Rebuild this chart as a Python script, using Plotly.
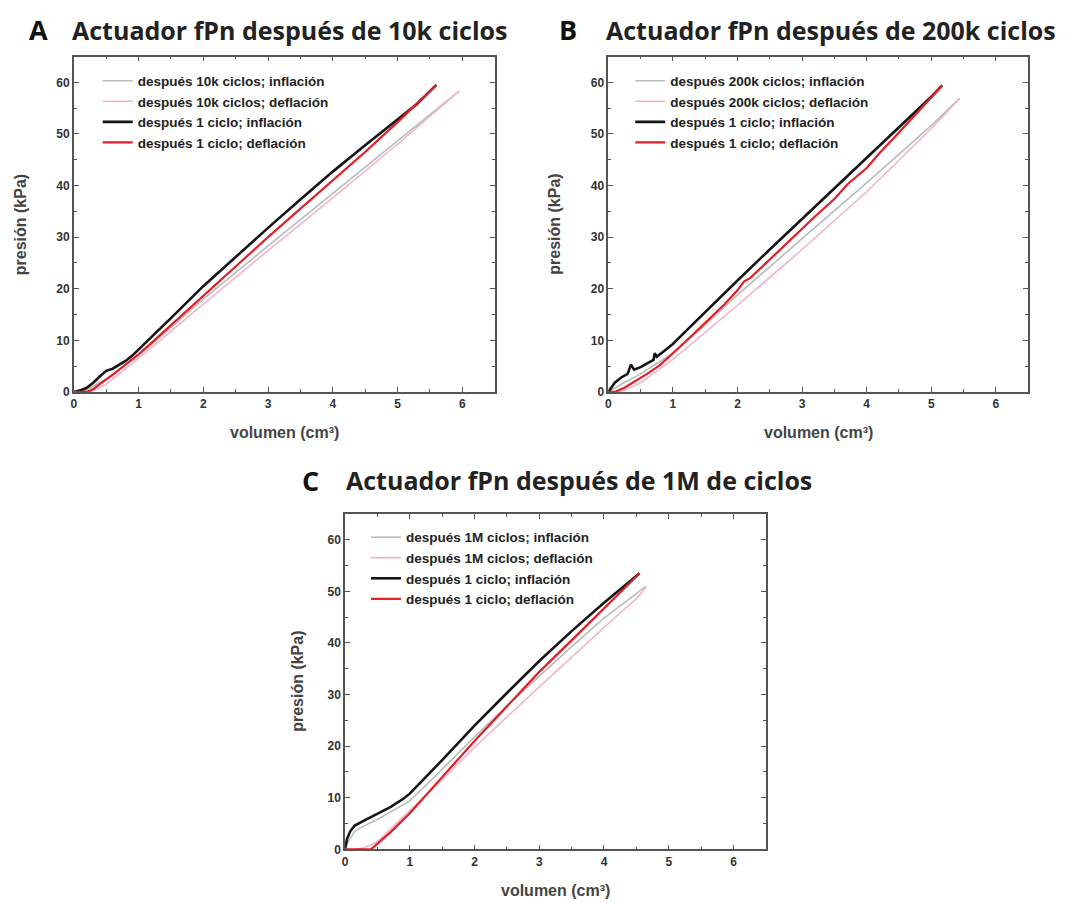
import plotly.graph_objects as go

# ---------------- data ----------------
# Panel A (10k cycles)
a_inf1_x = [0, 0.1, 0.2, 0.3, 0.4, 0.45, 0.5, 0.6, 0.7, 0.8, 0.9, 1.0, 1.2, 1.5, 2.0, 2.5, 3.0, 3.5, 4.0, 4.5, 5.0, 5.3, 5.6]
a_inf1_y = [0, 0.3, 0.8, 1.8, 3.0, 3.6, 4.1, 4.5, 5.2, 6.0, 7.0, 8.2, 10.8, 14.3, 20.5, 26.2, 31.8, 37.3, 42.7, 47.8, 52.8, 55.8, 59.5]
a_def1_x = [5.6, 5.0, 4.5, 4.0, 3.5, 3.0, 2.5, 2.0, 1.5, 1.2, 1.0, 0.8, 0.6, 0.4, 0.3, 0.2, 0.0]
a_def1_y = [59.5, 52.3, 46.5, 41.0, 35.5, 30.0, 24.3, 18.6, 12.8, 9.5, 7.3, 5.3, 3.3, 1.5, 0.5, 0.0, 0.0]
a_infN_x = [0, 0.2, 0.5, 1.0, 1.5, 2.0, 3.0, 4.0, 5.0, 5.95]
a_infN_y = [0, 0.4, 2.5, 7.0, 12.5, 18.0, 28.3, 38.5, 48.6, 58.3]
a_defN_x = [5.95, 5.0, 4.0, 3.0, 2.0, 1.5, 1.0, 0.5, 0.3, 0.2]
a_defN_y = [58.3, 48.0, 37.6, 27.4, 17.0, 11.8, 6.5, 1.5, 0.3, 0.0]

# Panel B (200k cycles)
b_inf1_x = [0, 0.1, 0.2, 0.3, 0.35, 0.4, 0.5, 0.6, 0.7, 0.72, 0.75, 0.85, 1.0, 1.2, 1.5, 2.0, 2.5, 3.0, 3.5, 4.0, 4.5, 5.0, 5.17]
b_inf1_y = [0, 1.8, 2.8, 3.5, 5.3, 4.3, 4.8, 5.5, 6.2, 7.5, 6.8, 7.8, 9.3, 11.8, 15.5, 21.6, 27.6, 33.5, 39.4, 45.3, 51.2, 57.2, 59.4]
b_def1_x = [5.17, 4.8, 4.5, 4.2, 4.0, 3.7, 3.5, 3.2, 3.0, 2.7, 2.5, 2.2, 2.1, 2.0, 1.8, 1.5, 1.3, 1.0, 0.8, 0.6, 0.4, 0.25, 0.1, 0.0]
b_def1_y = [59.4, 54.3, 50.3, 46.3, 43.4, 40.2, 37.4, 34.0, 31.6, 28.0, 25.8, 22.1, 21.4, 19.7, 17.0, 13.3, 11.0, 7.5, 5.2, 3.5, 2.0, 0.8, 0.0, 0.0]
b_infN_x = [0, 0.2, 0.5, 1.0, 1.5, 2.0, 3.0, 4.0, 5.0, 5.44]
b_infN_y = [0, 1.5, 3.5, 7.5, 13.0, 18.8, 29.7, 40.5, 51.6, 56.9]
b_defN_x = [5.44, 5.0, 4.0, 3.0, 2.0, 1.5, 1.0, 0.5, 0.25, 0.15]
b_defN_y = [56.9, 51.0, 38.8, 27.6, 16.8, 11.6, 6.3, 1.8, 0.3, 0.0]

# Panel C (1M cycles)
c_inf1_x = [0, 0.03, 0.08, 0.15, 0.3, 0.5, 0.7, 0.9, 1.0, 1.5, 2.0, 2.5, 3.0, 3.5, 4.0, 4.55]
c_inf1_y = [0, 2.0, 3.5, 4.6, 5.6, 6.9, 8.2, 9.8, 10.8, 17.3, 24.0, 30.3, 36.5, 42.3, 47.8, 53.5]
c_def1_x = [4.55, 4.0, 3.5, 3.0, 2.5, 2.0, 1.5, 1.0, 0.7, 0.5, 0.4, 0.2, 0.0]
c_def1_y = [53.5, 46.6, 40.5, 34.4, 27.7, 21.0, 14.0, 7.0, 3.3, 1.0, 0.0, 0.0, 0.0]
c_infN_x = [0, 0.05, 0.15, 0.3, 0.5, 1.0, 1.5, 2.0, 2.5, 3.0, 3.5, 4.0, 4.65]
c_infN_y = [0, 1.5, 3.5, 4.6, 5.8, 9.4, 15.5, 21.8, 27.8, 33.6, 39.3, 44.8, 51.0]
c_defN_x = [4.65, 4.5, 4.0, 3.0, 2.0, 1.5, 1.0, 0.5, 0.3, 0.15]
c_defN_y = [50.8, 48.6, 43.0, 31.5, 19.8, 13.5, 7.5, 1.5, 0.3, 0.0]

panel_letters = ["A", "B", "C"]
panel_titles = ["Actuador fPn después de 10k ciclos",
                "Actuador fPn después de 200k ciclos",
                "Actuador fPn después de 1M de ciclos"]
cycle_labels = ["10k", "200k", "1M"]
x_title = "volumen (cm³)"
y_title = "presión (kPa)"

# ---------------- figure ----------------
W, H = 1071, 903
def px(x): return x / W
def py(y): return 1 - y / H

# plot areas in pixels (left, right, top, bottom)
boxes = [(71, 493, 57, 395), (607, 1028, 57, 395), (343, 765, 518, 856)]

GREY = "#b9bcbc"
PINK = "#f2b3cb"
BLACK = "#151515"
RED = "#e31e26"

fig = go.Figure()
panels = [
    (a_infN_x, a_infN_y, a_defN_x, a_defN_y, a_inf1_x, a_inf1_y, a_def1_x, a_def1_y),
    (b_infN_x, b_infN_y, b_defN_x, b_defN_y, b_inf1_x, b_inf1_y, b_def1_x, b_def1_y),
    (c_infN_x, c_infN_y, c_defN_x, c_defN_y, c_inf1_x, c_inf1_y, c_def1_x, c_def1_y),
]
legend_pos = [(95, 66), (629, 66), (364, 526)]
ytitle_off = [54, 54, 47]

for i, (d, box) in enumerate(zip(panels, boxes)):
    xa = "x" if i == 0 else f"x{i+1}"
    ya = "y" if i == 0 else f"y{i+1}"
    lg = "legend" if i == 0 else f"legend{i+1}"
    lab = cycle_labels[i]
    specs = [
        (d[0], d[1], f"después {lab} ciclos; inflación", GREY, 1.6),
        (d[2], d[3], f"después {lab} ciclos; deflación", PINK, 1.6),
        (d[4], d[5], "después 1 ciclo; inflación", BLACK, 2.6),
        (d[6], d[7], "después 1 ciclo; deflación", RED, 2.2),
    ]
    for xs, ys, name, col, w in specs:
        fig.add_trace(go.Scatter(x=xs, y=ys, mode="lines", name=name,
                                 line=dict(color=col, width=w),
                                 xaxis=xa, yaxis=ya, legend=lg))
    l, r, t, b = box
    axis_common = dict(showline=True, linecolor="#555555", linewidth=1.5, mirror="allticks",
                       ticks="inside", ticklen=5, tickcolor="#555555", showgrid=False,
                       zeroline=False,
                       tickfont=dict(family="Liberation Sans", size=12, color="#333333", weight="bold"))
    xkey = "xaxis" if i == 0 else f"xaxis{i+1}"
    ykey = "yaxis" if i == 0 else f"yaxis{i+1}"
    fig.update_layout(**{
        xkey: dict(domain=[px(l), px(r)], range=[0, 6.5], dtick=1, anchor=ya,
                   minor=dict(dtick=0.5, ticks="inside", ticklen=3, tickcolor="#555555"),
                   **axis_common),
        ykey: dict(domain=[py(b), py(t)], range=[0, 65], dtick=10, anchor=xa,
                   minor=dict(dtick=5, ticks="inside", ticklen=3, tickcolor="#555555"),
                   **axis_common),
    })
    lx, ly = legend_pos[i]
    fig.update_layout(**{lg: dict(x=px(lx), y=py(ly), xanchor="left", yanchor="top",
                                  bgcolor="rgba(0,0,0,0)", tracegroupgap=0,
                                  font=dict(family="Liberation Sans", size=13.5,
                                            color="#222222", weight="bold"))})
    # axis titles
    fig.add_annotation(x=px((l + r) / 2), y=py(b + 41), xref="paper", yref="paper",
                       text=x_title, showarrow=False, xanchor="center", yanchor="middle",
                       font=dict(family="Liberation Sans", size=16, color="#444444", weight="bold"))
    fig.add_annotation(x=px(l - ytitle_off[i]), y=py((t + b) / 2), xref="paper", yref="paper",
                       text=y_title, showarrow=False, textangle=-90, xanchor="center", yanchor="middle",
                       font=dict(family="Liberation Sans", size=16, color="#444444", weight="bold"))

# panel titles
title_pos = [(24, 67, 30), (556, 603, 30), (298, 342, 484)]
for (lx, tx, ty), letter, title in zip(title_pos, panel_letters, panel_titles):
    fig.add_annotation(x=px(lx), y=py(ty), xref="paper", yref="paper", text=letter,
                       showarrow=False, xanchor="left", yanchor="middle",
                       font=dict(family="Open Sans", size=27, color="#111111", weight="bold"))
    fig.add_annotation(x=px(tx), y=py(ty), xref="paper", yref="paper", text=title,
                       showarrow=False, xanchor="left", yanchor="middle",
                       font=dict(family="Open Sans", size=25, color="#222222", weight="bold"))

fig.update_layout(width=W, height=H, margin=dict(l=0, r=0, t=0, b=0),
                  paper_bgcolor="white", plot_bgcolor="white", showlegend=True)

fig.write_html("out.html", config={"displayModeBar": False},
               post_script="document.body.style.margin='0px';")
